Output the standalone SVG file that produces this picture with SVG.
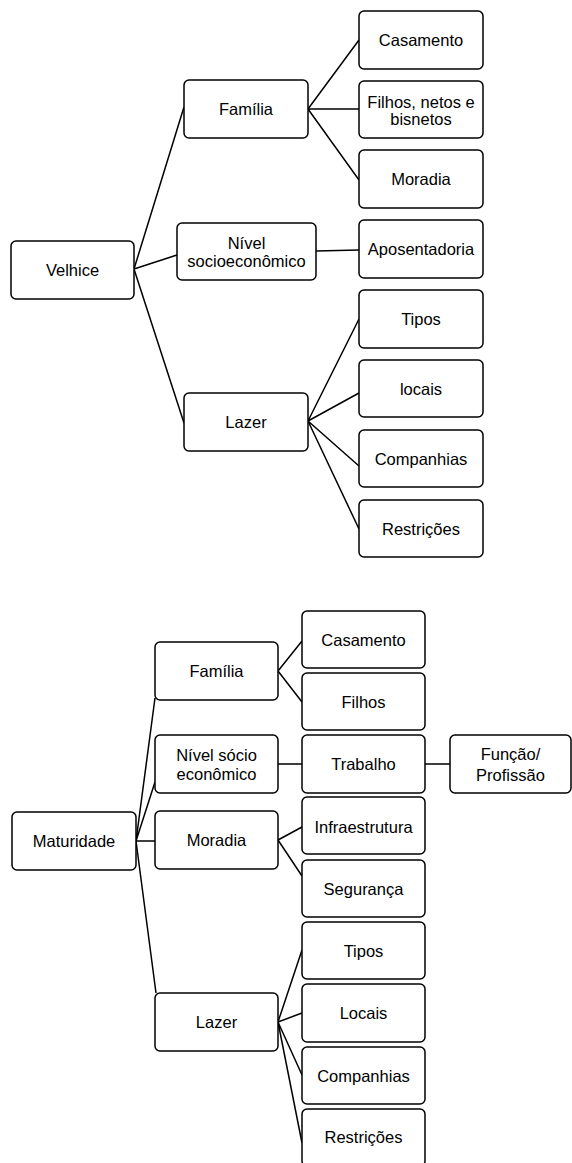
<svg xmlns="http://www.w3.org/2000/svg" width="572" height="1163" viewBox="0 0 572 1163">
<style>
.box{fill:#fff;stroke:#000;stroke-width:1.5}
.lbl{font-family:"Liberation Sans",Arial,sans-serif;font-size:16.5px;fill:#000;text-anchor:middle;dominant-baseline:central}
.con{fill:none;stroke:#000;stroke-width:1.5}
</style>
<rect width="572" height="1163" fill="#fff"/>
<g id="connectors">
<path class="con" d="M134,269 L184,107 M134,269 L177,255 M134,269 L184,423"/>
<path class="con" d="M308,109 L359,40 M308,109 L359,109 M308,109 L359,180"/>
<path class="con" d="M316,251 L359,250"/>
<path class="con" d="M308,421 L359,319 M308,421 L359,393 M308,421 L359,466 M308,421 L359,529"/>
<path class="con" d="M136,841 L155,698 M136,841 L155,782 M136,841 L155,841 M136,841 L156,993"/>
<path class="con" d="M278,671 L302,641 M278,671 L302,702"/>
<path class="con" d="M278,764 L302,764 M425,764 L450,764"/>
<path class="con" d="M278,840 L302,827 M278,840 L302,876"/>
<path class="con" d="M278,1022 L302,950 M278,1022 L302,1013 M278,1022 L302,1075 M278,1022 L302,1143"/>
</g>
<g id="velhice"><rect class="box" x="11" y="241" width="123" height="58" rx="5"/><text class="lbl" x="72.5" y="270">Velhice</text></g>
<g id="t-familia"><rect class="box" x="184" y="80" width="124" height="58" rx="5"/><text class="lbl" x="246" y="109">Família</text></g>
<g id="t-nivel"><rect class="box" x="177" y="223" width="139" height="57" rx="5"/><text class="lbl" x="246.5" y="243">Nível</text><text class="lbl" x="246.5" y="261">socioeconômico</text></g>
<g id="t-lazer"><rect class="box" x="184" y="393" width="124" height="58" rx="5"/><text class="lbl" x="246" y="422">Lazer</text></g>
<g id="t-casamento"><rect class="box" x="359" y="11" width="124" height="58" rx="5"/><text class="lbl" x="421" y="40">Casamento</text></g>
<g id="t-filhos"><rect class="box" x="359" y="81" width="124" height="57" rx="5"/><text class="lbl" x="421" y="101.5">Filhos, netos e</text><text class="lbl" x="421" y="119">bisnetos</text></g>
<g id="t-moradia"><rect class="box" x="359" y="150" width="124" height="58" rx="5"/><text class="lbl" x="421" y="179">Moradia</text></g>
<g id="t-aposentadoria"><rect class="box" x="359" y="220" width="124" height="58" rx="5"/><text class="lbl" x="421" y="249">Aposentadoria</text></g>
<g id="t-tipos"><rect class="box" x="359" y="290" width="124" height="58" rx="5"/><text class="lbl" x="421" y="319">Tipos</text></g>
<g id="t-locais"><rect class="box" x="359" y="360" width="124" height="57" rx="5"/><text class="lbl" x="421" y="388.5">locais</text></g>
<g id="t-companhias"><rect class="box" x="359" y="430" width="124" height="57" rx="5"/><text class="lbl" x="421" y="458.5">Companhias</text></g>
<g id="t-restricoes"><rect class="box" x="359" y="500" width="124" height="57" rx="5"/><text class="lbl" x="421" y="528.5">Restrições</text></g>
<g id="maturidade"><rect class="box" x="12" y="812" width="124" height="58" rx="5"/><text class="lbl" x="74" y="841">Maturidade</text></g>
<g id="b-familia"><rect class="box" x="155" y="642" width="123" height="58" rx="5"/><text class="lbl" x="216.5" y="671">Família</text></g>
<g id="b-nivel"><rect class="box" x="155" y="735" width="123" height="58" rx="5"/><text class="lbl" x="216.5" y="755">Nível sócio</text><text class="lbl" x="216.5" y="774">econômico</text></g>
<g id="b-moradia"><rect class="box" x="155" y="811" width="123" height="58" rx="5"/><text class="lbl" x="216.5" y="840">Moradia</text></g>
<g id="b-lazer"><rect class="box" x="155" y="993" width="123" height="58" rx="5"/><text class="lbl" x="216.5" y="1022">Lazer</text></g>
<g id="b-casamento"><rect class="box" x="302" y="611" width="123" height="57" rx="5"/><text class="lbl" x="363.5" y="639.5">Casamento</text></g>
<g id="b-filhos"><rect class="box" x="302" y="673" width="123" height="57" rx="5"/><text class="lbl" x="363.5" y="701.5">Filhos</text></g>
<g id="b-trabalho"><rect class="box" x="302" y="735" width="123" height="58" rx="5"/><text class="lbl" x="363.5" y="764">Trabalho</text></g>
<g id="b-funcao"><rect class="box" x="450" y="735" width="121" height="58" rx="5"/><text class="lbl" x="510.5" y="754">Função/</text><text class="lbl" x="510.5" y="775">Profissão</text></g>
<g id="b-infra"><rect class="box" x="302" y="797" width="123" height="57" rx="5"/><text class="lbl" x="363.5" y="826.5">Infraestrutura</text></g>
<g id="b-seguranca"><rect class="box" x="302" y="860" width="123" height="57" rx="5"/><text class="lbl" x="363.5" y="888.5">Segurança</text></g>
<g id="b-tipos"><rect class="box" x="302" y="922" width="123" height="57" rx="5"/><text class="lbl" x="363.5" y="950.5">Tipos</text></g>
<g id="b-locais"><rect class="box" x="302" y="984" width="123" height="58" rx="5"/><text class="lbl" x="363.5" y="1013">Locais</text></g>
<g id="b-companhias"><rect class="box" x="302" y="1047" width="123" height="57" rx="5"/><text class="lbl" x="363.5" y="1075.5">Companhias</text></g>
<g id="b-restricoes"><rect class="box" x="302" y="1109" width="123" height="57" rx="5"/><text class="lbl" x="363.5" y="1137">Restrições</text></g>
</svg>
